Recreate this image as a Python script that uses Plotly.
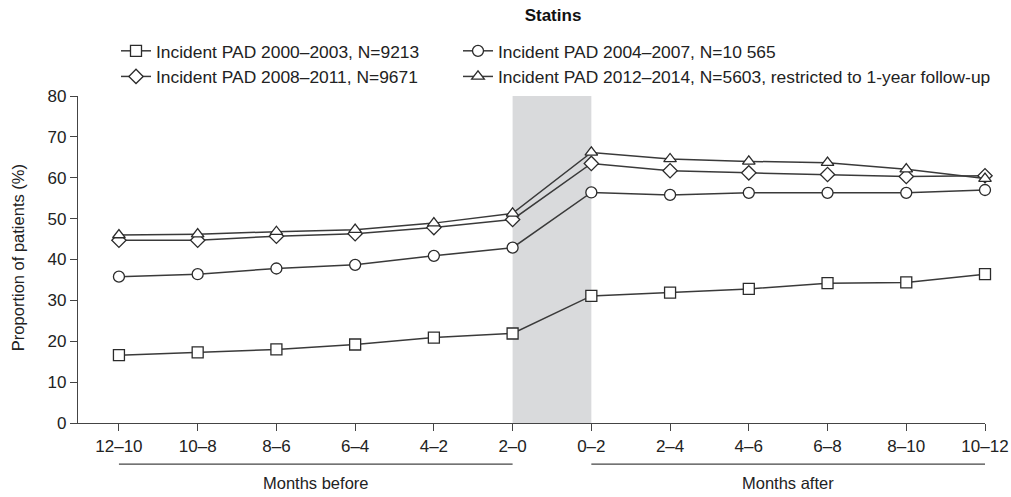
import plotly.graph_objects as go

# Two-month windows around the incident PAD date
periods = ["12–10", "10–8", "8–6", "6–4", "4–2", "2–0",
           "0–2", "2–4", "4–6", "6–8", "8–10", "10–12"]

# Proportion of patients using statins (%)
pad_2000_2003 = [16.6, 17.3, 18.0, 19.2, 20.9, 21.9, 31.1, 31.9, 32.8, 34.2, 34.4, 36.4]
pad_2004_2007 = [35.8, 36.4, 37.8, 38.7, 40.9, 42.9, 56.4, 55.8, 56.3, 56.3, 56.3, 57.0]
pad_2008_2011 = [44.7, 44.7, 45.7, 46.3, 47.8, 49.8, 63.5, 61.7, 61.2, 60.8, 60.3, 60.5]
pad_2012_2014 = [46.0, 46.2, 46.8, 47.3, 48.9, 51.3, 66.2, 64.6, 64.0, 63.7, 62.1, 59.8]

series = [
    ("Incident PAD 2000–2003, N=9213", pad_2000_2003, "square", "legend"),
    ("Incident PAD 2004–2007, N=10 565", pad_2004_2007, "circle", "legend2"),
    ("Incident PAD 2008–2011, N=9671", pad_2008_2011, "diamond", "legend"),
    ("Incident PAD 2012–2014, N=5603, restricted to 1-year follow-up", pad_2012_2014,
     "triangle-up", "legend2"),
]

FONT = "Liberation Sans, Arial, sans-serif"
INK = "#2b2b2b"
W, H = 1011, 497

fig = go.Figure()
for i, (name, values, symbol, leg) in enumerate(series):
    fig.add_trace(go.Scatter(
        x=periods, y=values, name=name, mode="lines+markers",
        legend=leg, legendgroup=f"g{i}",
        line=dict(color="#3a3a3a", width=1.5),
        marker=dict(symbol=symbol, size=11, color="white",
                    line=dict(color=INK, width=1.3)),
        cliponaxis=False,
    ))

# Shaded window around the diagnosis date
fig.add_shape(type="rect", xref="x", yref="y", x0=periods[5], x1=periods[6],
              y0=0, y1=80, fillcolor="#d9dadc", line=dict(width=0), layer="below")

# Brackets under the axis for the before/after periods
bracket_y = -0.126
for x0, x1 in [(periods[0], periods[5]), (periods[6], periods[11])]:
    fig.add_shape(type="line", xref="x", yref="paper", x0=x0, x1=x1,
                  y0=bracket_y, y1=bracket_y, line=dict(color="#444", width=1.3))
fig.add_annotation(x=2.5, y=-0.183, xref="x", yref="paper", text="Months before",
                   showarrow=False, font=dict(family=FONT, size=16.5, color="#222"),
                   yanchor="middle")
fig.add_annotation(x=8.5, y=-0.183, xref="x", yref="paper", text="Months after",
                   showarrow=False, font=dict(family=FONT, size=16.5, color="#222"),
                   yanchor="middle")

# Y-axis title
fig.add_annotation(x=-0.066, y=0.5046, xref="paper", yref="paper",
                   text="Proportion of patients (%)", textangle=-90,
                   showarrow=False, xanchor="center", yanchor="middle",
                   font=dict(family=FONT, size=16.5, color="#222"))

legend_common = dict(
    orientation="v", xref="container", yref="container",
    xanchor="left", yanchor="top", bgcolor="rgba(0,0,0,0)",
    font=dict(family=FONT, size=17.4, color="#222"),
    tracegroupgap=0, itemwidth=30,
)

fig.update_layout(
    width=W, height=H,
    margin=dict(l=78, r=26, t=96, b=74, autoexpand=False),
    paper_bgcolor="white", plot_bgcolor="white",
    font=dict(family=FONT, size=16.5, color="#222"),
    title=dict(text="<b>Statins</b>", xref="container", yref="container",
               x=553 / W, y=1 - 15 / H, xanchor="center", yanchor="middle",
               font=dict(family=FONT, size=17, color="#111")),
    legend=dict(x=116 / W, y=1 - 33 / H, **legend_common),
    legend2=dict(x=458 / W, y=1 - 33 / H, **legend_common),
    xaxis=dict(
        type="category", range=[-0.52, 11], showgrid=False, zeroline=False,
        showline=True, linecolor="#444", linewidth=1.3,
        ticks="outside", ticklen=7, tickcolor="#444", tickwidth=1.3,
        tickfont=dict(family=FONT, size=17, color="#222"),
    ),
    yaxis=dict(
        range=[0, 80], dtick=10, showgrid=False, zeroline=False,
        showline=True, linecolor="#444", linewidth=1.3,
        ticks="outside", ticklen=7, tickcolor="#444", tickwidth=1.3,
        tickfont=dict(family=FONT, size=17, color="#222"),
    ),
    showlegend=True,
)

fig.write_html("out.html")
